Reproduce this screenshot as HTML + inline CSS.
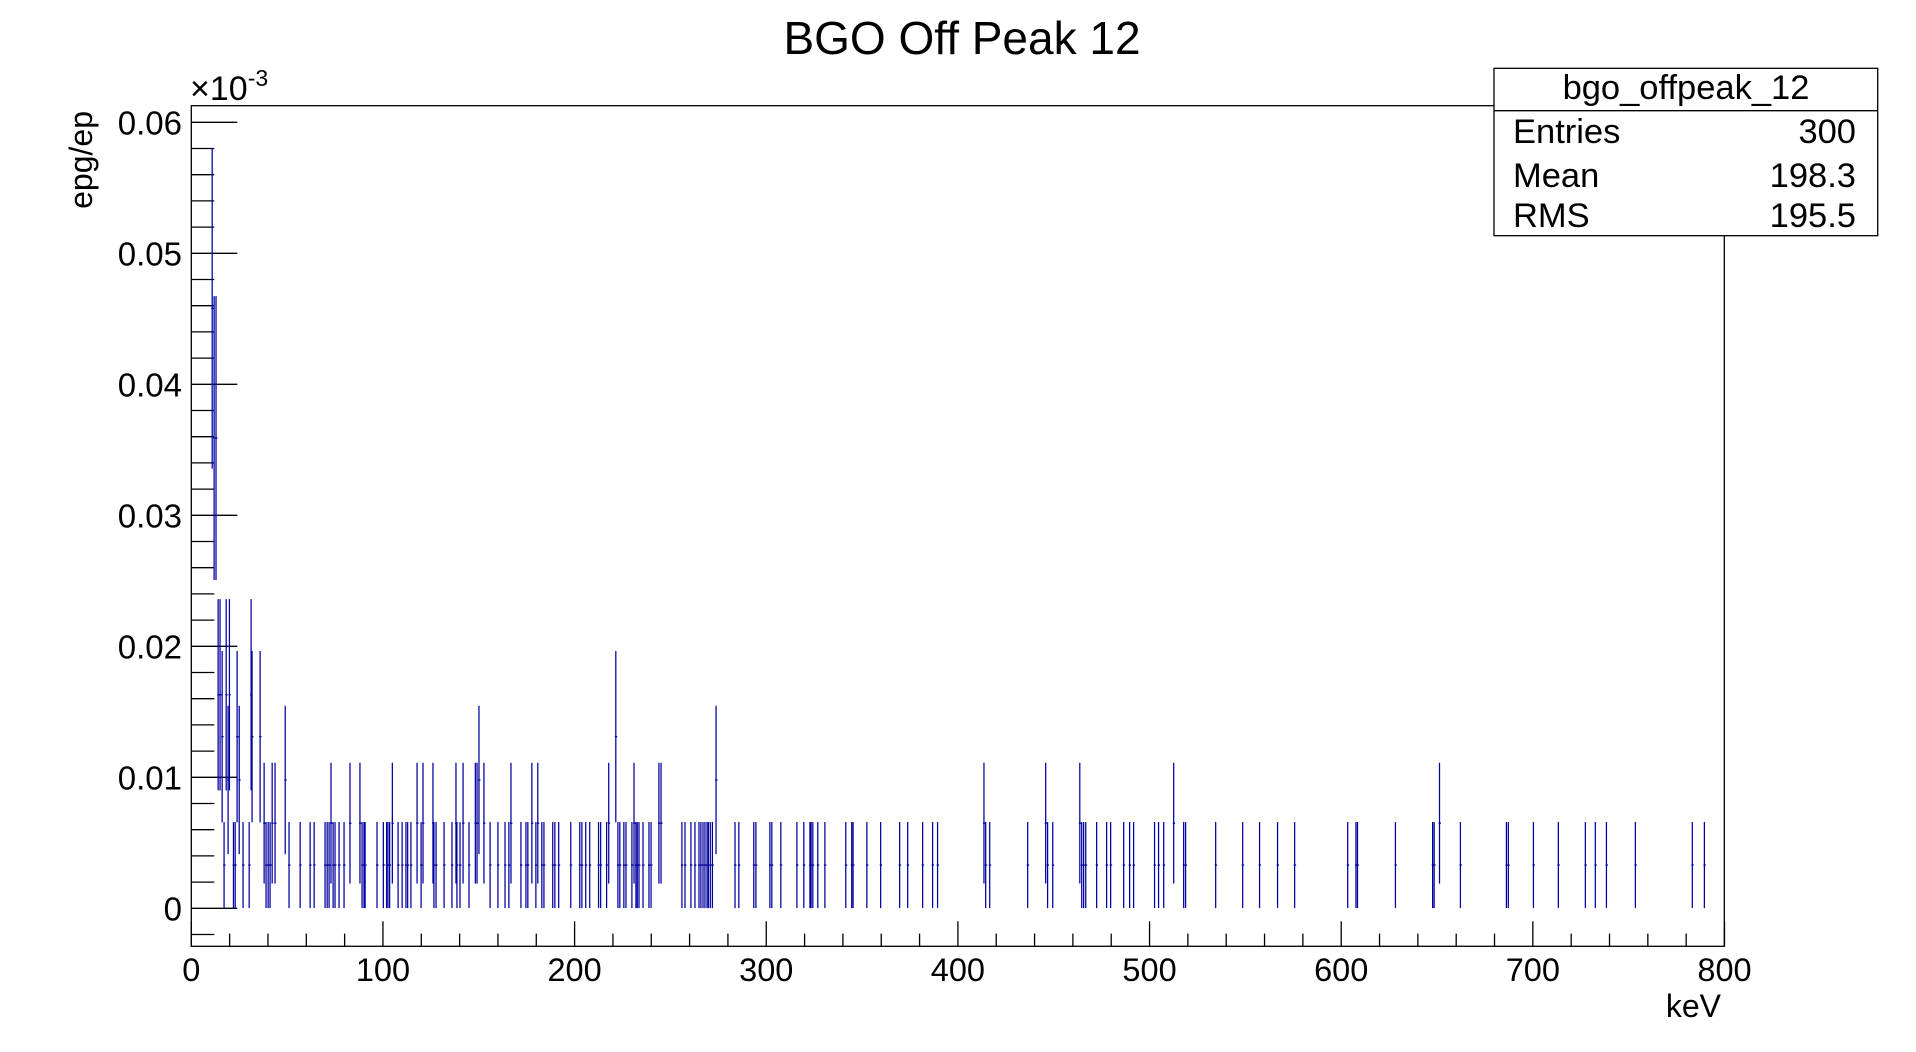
<!DOCTYPE html>
<html><head><meta charset="utf-8">
<style>
html,body{margin:0;padding:0;background:#fff;}
svg{display:block;font-family:"Liberation Sans",Arial,sans-serif;}
</style></head>
<body>
<svg id="chart" width="1916" height="1052" viewBox="0 0 1916 1052" xmlns="http://www.w3.org/2000/svg">
<rect x="0" y="0" width="1916" height="1052" fill="#fff"/>
<text x="962" y="54" font-size="46" text-anchor="middle">BGO Off Peak 12</text>
<rect x="191.3" y="105.7" width="1533" height="840.6" fill="none" stroke="#000" stroke-width="1.3"/>
<g id="yticks"></g>
<g id="xticks"></g>
<g id="bars"></g>
<text x="190" y="100" font-size="34">×10<tspan dy="-14" font-size="23">-3</tspan></text>
<text transform="translate(92,111) rotate(-90)" font-size="32" text-anchor="end">epg/ep</text>
<text x="1721" y="1017" font-size="32" text-anchor="end">keV</text>
<g>
<rect x="1494" y="68.3" width="383.7" height="167.4" fill="#fff" stroke="#000" stroke-width="1.3"/>
<line x1="1494" y1="110.7" x2="1877.7" y2="110.7" stroke="#000" stroke-width="1.3"/>
<text x="1686" y="99" font-size="34.5" text-anchor="middle">bgo_offpeak_12</text>
<text x="1513" y="143" font-size="34.5">Entries</text>
<text x="1856" y="143" font-size="34.5" text-anchor="end">300</text>
<text x="1513" y="187" font-size="34.5">Mean</text>
<text x="1856" y="187" font-size="34.5" text-anchor="end">198.3</text>
<text x="1513" y="227" font-size="34.5">RMS</text>
<text x="1856" y="227" font-size="34.5" text-anchor="end">195.5</text>
</g>
</svg>
<script>
var energies = [10.9,11.9,12.9,14,15,16.1,17.1,18.2,19.2,19.9,22,22.9,23.9,25,27,30.2,31.2,31.7,35.9,38,39,40.1,41.1,42.2,43.7,49,51,56.8,62,64.1,69.8,70.9,71.9,72.9,74,75,77.1,79.7,82.8,88,89.1,90.1,90.7,96.9,
100.2,101.9,102.6,103.5,104.9,107.9,110,112,112.9,114.6,117.8,119.9,120.9,126.1,126.6,127.7,131.9,136,138.1,138.6,140.2,141.8,144.9,148.2,149.1,150.1,152.7,155.9,160,163.7,165.7,166.8,172,174.6,175.6,177.7,179.8,180.8,182.9,184,188.6,189.7,191.7,198,202.7,203.8,205.8,207.9,212.5,213.6,216.7,217.8,221.5,222.6,223.6,225.7,226.8,229.9,231,232,232.7,233.6,235.7,238.8,239.9,244,245.1,256,257.6,260.7,262.8,264.9,265.9,267,268,269.1,269.8,270.8,271.9,273.8,283.7,285.7,293.5,294.6,301.9,302.9,307.6,
316,319.6,322.8,323.4,324.3,326.9,330.6,341.5,344.6,345.3,352.5,359.7,369.6,373.8,381.6,386.8,389.4,413.6,414.5,416.6,436.4,445.8,446.8,449.5,463.6,464.6,465.6,466.7,472.4,477.6,479.7,486.5,489.6,491.7,502.6,504.7,507.4,512.6,517.8,518.8,534.5,548.6,557.4,
566.8,575.7,603.4,607.7,608.5,628.3,647.7,648.5,651.3,662.2,686.2,687.2,700.3,713.3,727.4,732.6,738.4,753.5,783.2,789.5];
var values = [0.0458,0.0359,0.0359,0.0163,0.0163,0.0131,0.0033,0.0163,0.0098,0.0163,0.0033,0.0033,0.0131,0.0098,0.0033,0.0033,0.0163,0.0131,0.0131,0.0065,0.0033,0.0033,0.0033,0.0065,0.0065,0.0098,0.0033,0.0033,0.0033,0.0033,0.0033,0.0033,0.0033,0.0065,0.0033,0.0033,0.0033,0.0033,0.0065,0.0065,0.0033,0.0033,0.0033,0.0033,
0.0033,0.0033,0.0033,0.0033,0.0065,0.0033,0.0033,0.0033,0.0033,0.0033,0.0065,0.0033,0.0065,0.0065,0.0033,0.0033,0.0033,0.0033,0.0065,0.0033,0.0033,0.0065,0.0033,0.0065,0.0065,0.0098,0.0065,0.0033,0.0033,0.0033,0.0033,0.0065,0.0033,0.0033,0.0033,0.0065,0.0033,0.0065,0.0033,0.0033,0.0033,0.0033,0.0033,0.0033,0.0033,0.0033,0.0033,0.0033,0.0033,0.0033,0.0033,0.0065,0.0131,0.0033,0.0033,0.0033,0.0033,0.0033,0.0065,0.0033,0.0033,0.0033,0.0033,0.0033,0.0033,0.0065,0.0065,0.0033,0.0033,0.0033,0.0033,0.0033,0.0033,0.0033,0.0033,0.0033,0.0033,0.0033,0.0033,0.0098,0.0033,0.0033,0.0033,0.0033,0.0033,0.0033,0.0033,
0.0033,0.0033,0.0033,0.0033,0.0033,0.0033,0.0033,0.0033,0.0033,0.0033,0.0033,0.0033,0.0033,0.0033,0.0033,0.0033,0.0033,0.0065,0.0033,0.0033,0.0033,0.0065,0.0033,0.0033,0.0065,0.0033,0.0033,0.0033,0.0033,0.0033,0.0033,0.0033,0.0033,0.0033,0.0033,0.0033,0.0033,0.0065,0.0033,0.0033,0.0033,0.0033,0.0033,
0.0033,0.0033,0.0033,0.0033,0.0033,0.0033,0.0033,0.0033,0.0065,0.0033,0.0033,0.0033,0.0033,0.0033,0.0033,0.0033,0.0033,0.0033,0.0033,0.0033];
var countUnit = 0.00327;
var xTickLabels = ["0","100","200","300","400","500","600","700","800"];
var yTickLabels = ["0","0.01","0.02","0.03","0.04","0.05","0.06"];

var NS = "http://www.w3.org/2000/svg";
var X0 = 191.3, XPX = 1.9165, Y0 = 908.3, YPX = 13100;
var FB = 946.3;
function sx(k){ return X0 + k * XPX; }
function sy(v){ return Y0 - v * YPX; }
function mk(tag, attrs, parent){
  var e = document.createElementNS(NS, tag);
  for (var k in attrs) e.setAttribute(k, attrs[k]);
  parent.appendChild(e);
  return e;
}
var yg = document.getElementById('yticks');
for (var v = -0.002; v <= 0.0605; v += 0.002) {
  var vv = Math.round(v * 1000) / 1000;
  var major = Math.abs(Math.round(vv * 100) - vv * 100) < 1e-6;
  var t = mk('line', {x1: X0, x2: X0 + (major ? 46 : 23), y1: sy(vv), y2: sy(vv), stroke: '#000', 'stroke-width': 1.3}, yg);
  
  
}
yTickLabels.forEach(function(lbl){
  var tx = mk('text', {x: 182, y: sy(parseFloat(lbl)) + 12, 'font-size': 33, 'text-anchor': 'end'}, yg);
  tx.textContent = lbl;
  
  
});
var xg = document.getElementById('xticks');
for (var k = 0; k <= 800; k += 20) {
  var maj = k % 100 === 0;
  var l = mk('line', {x1: sx(k), x2: sx(k), y1: FB, y2: FB - (maj ? 25 : 12.7), stroke: '#000', 'stroke-width': 1.3}, xg);
  
  
}
xTickLabels.forEach(function(lbl){
  var tx = mk('text', {x: sx(parseFloat(lbl)), y: 981, 'font-size': 32.5, 'text-anchor': 'middle'}, xg);
  tx.textContent = lbl;
  
  
});
var bg = document.getElementById('bars');
for (var i = 0; i < energies.length; i++) {
  var e = energies[i], val = values[i];
  var err = Math.sqrt(val * countUnit);
  var g = mk('g', {stroke: '#0000a0', 'stroke-width': 1.25}, bg);
  
  
  mk('line', {x1: sx(e), x2: sx(e), y1: sy(val - err), y2: sy(val + err)}, g);
  mk('line', {x1: sx(e - 0.5), x2: sx(e + 0.5) + 0.5, y1: sy(val), y2: sy(val)}, g);
}
</script>
</body></html>
